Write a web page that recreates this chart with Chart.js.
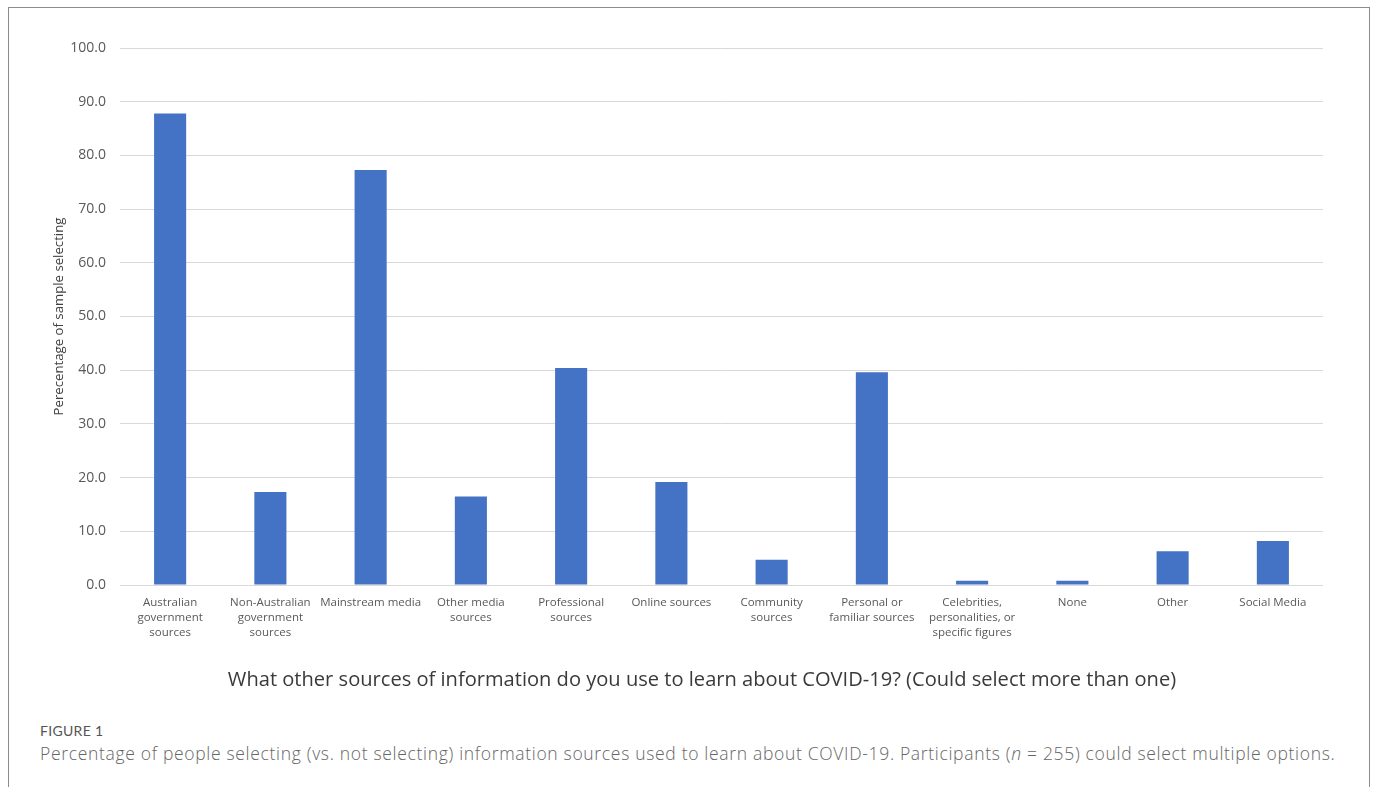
<!DOCTYPE html>
<html>
<head>
<meta charset="utf-8">
<script src="https://cdn.jsdelivr.net/npm/chart.js@4.4.1/dist/chart.umd.min.js"></script>
<style>
  html, body { margin: 0; padding: 0; background: #fff; }
  #frame {
    position: absolute; left: 8px; top: 7px; width: 1362px; height: 800px;
    border: 1px solid #8c8c8c; box-sizing: border-box;
  }
  #chartBox { position: absolute; left: 0; top: 0; width: 1375px; height: 712px; }
  #xTitle {
    position: absolute; left: 202px; width: 1000px; top: 665px; text-align: center;
    font-family: "Open Sans", sans-serif; font-size: 20.1px; color: #3a3a3a; white-space: nowrap;
  }
  #figLabel {
    position: absolute; left: 40px; top: 722px;
    font-family: "Lato", "Open Sans", sans-serif; font-size: 14px; color: #555;
    letter-spacing: 0.3px;
  }
  #caption {
    position: absolute; left: 40px; top: 741px;
    font-family: "Open Sans", "Lato", sans-serif; font-size: 17.5px; color: #666;
    font-weight: 300; letter-spacing: 0.68px; white-space: nowrap;
  }
</style>
</head>
<body>
<div id="frame"></div>
<div id="chartBox"><canvas id="c"></canvas></div>
<div id="xTitle"></div>
<div id="figLabel">FIGURE 1</div>
<div id="caption">Percentage of people selecting (vs. not selecting) information sources used to learn about COVID-19. Participants (<i>n</i> = 255) could select multiple options.</div>
<script>
// Information sources (multi-line tick labels)
const categories = [
  ["Australian", "government", "sources"],
  ["Non-Australian", "government", "sources"],
  "Mainstream media",
  ["Other media", "sources"],
  ["Professional", "sources"],
  "Online sources",
  ["Community", "sources"],
  ["Personal or", "familiar sources"],
  ["Celebrities,", "personalities, or", "specific figures"],
  "None",
  "Other",
  "Social Media"
];

// Percentage of sample selecting each source
const percentSelecting = [87.8, 17.3, 77.3, 16.5, 40.4, 19.2, 4.7, 39.6, 0.8, 0.8, 6.3, 8.2];

const yTickValues = [0, 10, 20, 30, 40, 50, 60, 70, 80, 90, 100];

const xTitle = "What other sources of information do you use to learn about COVID-19? (Could select more than one)";
const yTitle = "Perecentage of sample selecting";

document.getElementById("xTitle").textContent = xTitle;

const tickFont = { family: "'Open Sans', 'Liberation Sans', sans-serif", size: 11.5, lineHeight: 1.3 };

new Chart(document.getElementById("c"), {
  type: "bar",
  data: {
    labels: categories,
    datasets: [{
      data: percentSelecting,
      backgroundColor: "#4472C4",
      categoryPercentage: 1.0,
      barPercentage: 0.32
    }]
  },
  options: {
    responsive: true,
    maintainAspectRatio: false,
    animation: false,
    layout: { padding: { top: 48, right: 52, bottom: 0, left: 51 } },
    plugins: { legend: { display: false }, tooltip: { enabled: false } },
    scales: {
      x: {
        grid: { display: false, drawTicks: false },
        border: { display: false },
        ticks: {
          autoSkip: false, maxRotation: 0, minRotation: 0,
          color: "#595959", font: tickFont, padding: 10
        },
        afterFit(scale) { scale.height = 712 - 585; }
      },
      y: {
        min: 0, max: 100,
        afterBuildTicks(scale) { scale.ticks = yTickValues.map(v => ({ value: v })); },
        grid: { color: "#d9d9d9", drawTicks: false, lineWidth: 1 },
        border: { display: false },
        ticks: {
          color: "#595959", font: { family: "'Open Sans', sans-serif", size: 14 }, padding: 14,
          callback: v => v.toFixed(1)
        },
        title: {
          display: true, text: yTitle, color: "#404040",
          font: { family: "'Open Sans', sans-serif", size: 13.2 },
          padding: { top: 0, bottom: 6 }
        },
        afterFit(scale) { scale.width = 120 - 51; }
      }
    }
  }
});
</script>
</body>
</html>
